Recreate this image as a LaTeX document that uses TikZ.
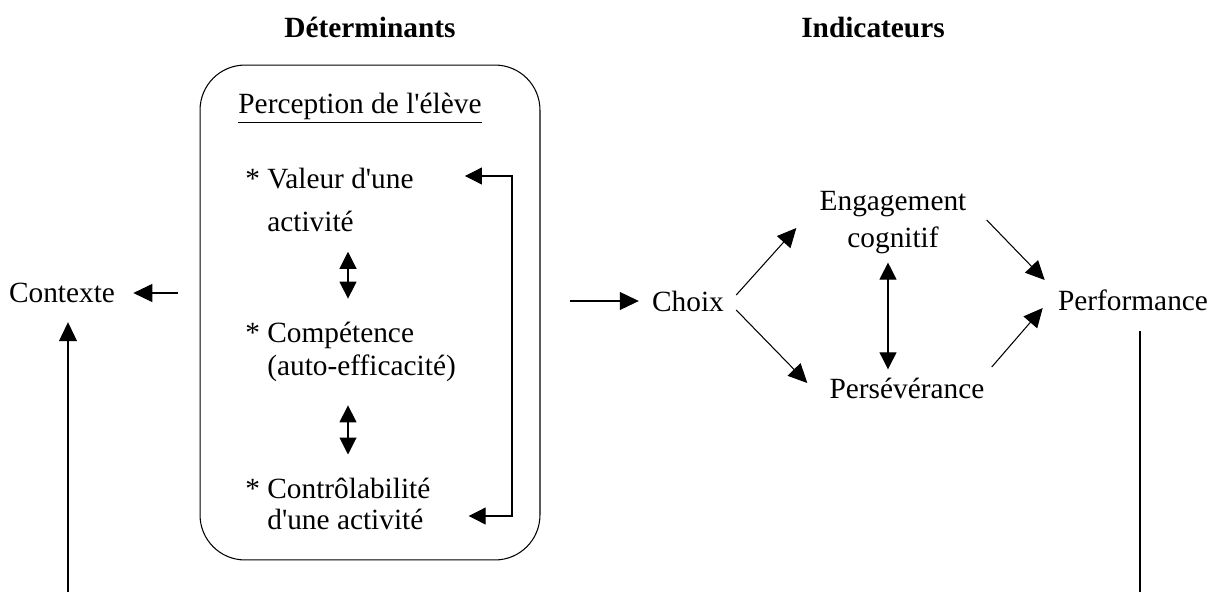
\documentclass[tikz,border=0pt]{standalone}
\usepackage{fontspec}
\setmainfont{Liberation Serif}
\usepackage{tikz}
\usetikzlibrary{arrows.meta,positioning,calc}
\tikzstyle{every picture}+=[font=\fontsize{16.7}{19}\selectfont]

\begin{document}
\begin{tikzpicture}
				[x=0.02cm, y=-0.02cm, inner sep=0pt,
				lbl/.style		= {font=\fontsize{16.7}{19}\selectfont},
				titre/.style	= {font=\fontsize{16.7}{19}\selectfont\bfseries},
				item/.style		= {lbl, align=left, anchor=west},
				cadre/.style	= {draw, line width=0.6pt, rounded corners=0.9cm, minimum width=6.8cm, minimum height=9.9cm},
				fleche/.style	= {-{Triangle[length=0.38cm,width=0.36cm]}, line width=0.6pt},
				dfleche/.style	= {{Triangle[length=0.34cm,width=0.34cm]}-{Triangle[length=0.34cm,width=0.34cm]}, line width=0.6pt}]
				
				\useasboundingbox (0,0) rectangle (1219,592);
				
				\node [titre]	at (370,27)		(tdet)	{Déterminants};
				\node [titre]	at (873,27)		(tind)	{Indicateurs};
				
				\node [cadre]	at (370,312.5)	(cadre)	{};
				\node [lbl]		at (360,108)	(percep)	{\underline{Perception de l\textquotesingle élève}};
				\node [item]	at (245,200)	(valeur)	{* Valeur d\textquotesingle une\\[5pt]\phantom{* }activité};
				\node [item]	at (245,352)	(compet)	{* Compétence\\\phantom{* }(auto-efficacité)};
				\node [item]	at (245,504)	(control)	{* Contrôlabilité\\[-1pt]\phantom{* }d\textquotesingle une activité};
				
				\node [lbl]		at (62,293)		(contexte)	{Contexte};
				\node [lbl]		at (688,301)	(choix)		{Choix};
				\node [lbl, align=center]	at (893,223)	(engag)	{Engagement\\[2pt]cognitif};
				\node [lbl]		at (907,388)	(persev)	{Persévérance};
				\node [lbl]		at (1133,300)	(perf)		{Performance};
				
				% bouts libres, axes et renvoi
				\coordinate (boucleG) at (68,592);
				\coordinate (boucleD) at (1140,592);
				\coordinate (axe) at (348,0);
				\coordinate (renvoi) at (512,0);
				\coordinate (pV) at ([shift={(51,-24)}]valeur.east);
				\coordinate (pC) at ([shift={(38,12)}]control.east);
				
				\draw [dfleche, shorten <=0.4cm, shorten >=0.46cm] (valeur.south -| axe) -- (compet.north -| axe);
				\draw [dfleche, shorten <=0.46cm, shorten >=0.46cm] (compet.south -| axe) -- (control.north -| axe);
				\draw [dfleche] (pV) -- (pV -| renvoi) -- (pC -| renvoi) -- (pC);
				
				\draw [fleche, shorten <=0.44cm, shorten >=0.36cm] (cadre.west |- contexte) -- (contexte.east);
				\draw [fleche, shorten >=0.38cm] (boucleG) -- (contexte.south -| boucleG);
				\draw [line width=0.6pt, shorten >=0.4cm] (boucleD) -- (perf.south -| boucleD);
				
				\draw [fleche, shorten <=0.6cm, shorten >=0.26cm] (cadre.east |- choix) -- (choix.west);
				\draw [fleche] ([shift={(12,-6)}]choix.east) -- ([shift={(-23,5)}]engag.west);
				\draw [fleche] ([shift={(12,9)}]choix.east) -- ([shift={(-22,-5)}]persev.west);
				\draw [dfleche, shorten <=0.16cm, shorten >=0.16cm] ([shift={(-5,0)}]engag.south) -- ([shift={(-19,0)}]persev.north);
				\draw [fleche] ([shift={(20,-3)}]engag.east) -- ([shift={(-13,-20)}]perf.west);
				\draw [fleche] ([shift={(7,-21)}]persev.east) -- ([shift={(-15,8)}]perf.west);
\end{tikzpicture}
\end{document}
